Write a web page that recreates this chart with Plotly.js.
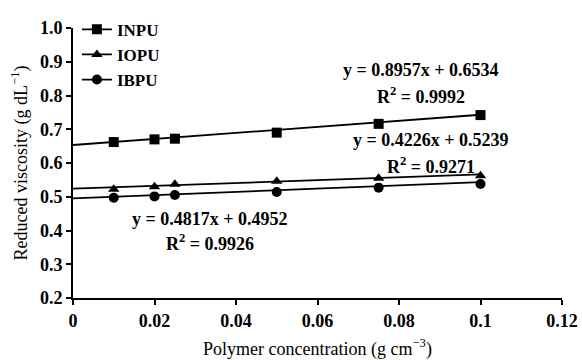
<!DOCTYPE html>
<html>
<head>
<meta charset="utf-8">
<script src="https://cdn.plot.ly/plotly-3.0.1.min.js"></script>
<style>html,body{margin:0;padding:0;background:#fff;}#chart{width:582px;height:360px;}</style>
</head>
<body>
<div id="chart"></div>
<script>
// Data
const concentration = [0.01, 0.02, 0.025, 0.05, 0.075, 0.1];
const inpu = [0.662, 0.670, 0.672, 0.690, 0.716, 0.742];
const iopu = [0.522, 0.530, 0.537, 0.546, 0.555, 0.562];
const ibpu = [0.497, 0.501, 0.505, 0.514, 0.527, 0.538];
const seriesNames = ["INPU", "IOPU", "IBPU"];
const slopes = [0.8957, 0.4226, 0.4817];
const intercepts = [0.6534, 0.5239, 0.4952];
const r2 = ["0.9992", "0.9271", "0.9926"];
const trendX = [0, 0.1];
const xTicks = [0, 0.02, 0.04, 0.06, 0.08, 0.1, 0.12];
const yTicks = [0.2, 0.3, 0.4, 0.5, 0.6, 0.7, 0.8, 0.9, 1.0];

const FONT = "Liberation Serif";
const symbols = ["square", "triangle-up", "circle"];
const values = [inpu, iopu, ibpu];

const traces = [];
// trend lines
for (let i = 0; i < 3; i++) {
  traces.push({
    x: trendX,
    y: trendX.map(v => slopes[i] * v + intercepts[i]),
    mode: "lines", line: {color: "#000", width: 1.8},
    showlegend: false, hoverinfo: "skip"
  });
}
// data markers
for (let i = 0; i < 3; i++) {
  traces.push({
    x: concentration, y: values[i], mode: "markers",
    marker: {symbol: symbols[i], color: "#000", size: 10},
    showlegend: false
  });
}
// legend entries
for (let i = 0; i < 3; i++) {
  traces.push({
    x: [null], y: [null], mode: "lines+markers", name: seriesNames[i],
    marker: {symbol: symbols[i], color: "#000", size: 10},
    line: {color: "#000", width: 1.8}
  });
}

function eq(i) {
  return "y = " + slopes[i].toFixed(4) + "x + " + intercepts[i].toFixed(4);
}
const annPos = [
  {x: 0.0855, y1: 0.875, y2: 0.801},
  {x: 0.0878, y1: 0.667, y2: 0.593},
  {x: 0.0335, y1: 0.434, y2: 0.363}
];
const bold = {family: FONT, size: 18, color: "#000", weight: "bold"};
const annotations = [];
for (let i = 0; i < 3; i++) {
  annotations.push({x: annPos[i].x, y: annPos[i].y1, xref: "x", yref: "y", text: eq(i),
    showarrow: false, font: bold});
  annotations.push({x: annPos[i].x, y: annPos[i].y2, xref: "x", yref: "y", text: "R<sup>2</sup> = " + r2[i],
    showarrow: false, font: bold});
}

const layout = {
  width: 582, height: 360,
  margin: {l: 72.5, r: 19.5, t: 16, b: 62},
  paper_bgcolor: "#fff", plot_bgcolor: "#fff",
  font: {family: FONT, size: 18, color: "#000"},
  showlegend: true,
  legend: {x: 0.008, y: 1.06, xanchor: "left", yanchor: "top", bgcolor: "rgba(0,0,0,0)",
    font: {family: FONT, size: 17, color: "#000", weight: "bold"}, tracegroupgap: 0, itemwidth: 30},
  xaxis: {
    range: [0, 0.12], tickvals: xTicks, ticktext: xTicks.map(String),
    showline: true, linecolor: "#000", linewidth: 2, mirror: false,
    ticks: "outside", ticklen: 5, tickwidth: 2, tickcolor: "#000",
    showgrid: false, zeroline: false,
    tickfont: bold,
    title: {text: "Polymer concentration (g cm<sup>−3</sup>)", standoff: 14,
      font: {family: FONT, size: 18, color: "#000"}}
  },
  yaxis: {
    range: [0.2, 1.0], tickvals: yTicks, ticktext: yTicks.map(v => v.toFixed(1)),
    showline: true, linecolor: "#000", linewidth: 2, mirror: false,
    ticks: "outside", ticklen: 5, tickwidth: 2, tickcolor: "#000",
    showgrid: false, zeroline: false,
    tickfont: bold,
    title: {text: "Reduced viscosity (g dL<sup>−1</sup>)", standoff: 8,
      font: {family: FONT, size: 18, color: "#000"}}
  },
  annotations: annotations
};

Plotly.newPlot("chart", traces, layout, {displayModeBar: false, staticPlot: true});
</script>
</body>
</html>
